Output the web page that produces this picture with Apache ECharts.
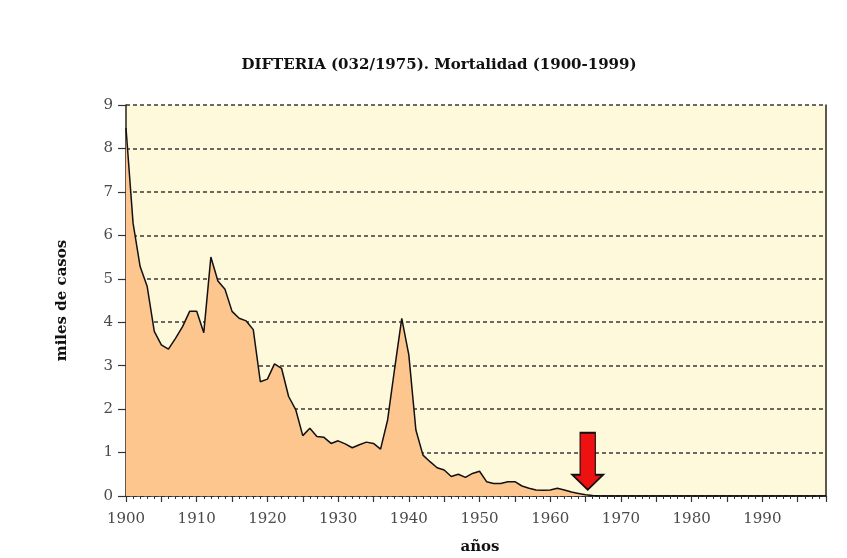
<!DOCTYPE html>
<html>
<head>
<meta charset="utf-8">
<script src="https://cdn.jsdelivr.net/npm/echarts@6/dist/echarts.min.js"></script>
<style>
  html, body { margin: 0; padding: 0; background: #fff; }
  #chart { width: 847px; height: 558px; }
</style>
</head>
<body>
<div id="chart"></div>
<script>
    // deaths per year, thousands (1900..1999)
    const startYear = 1900;
    const deaths = [
        8.47, 6.28, 5.28, 4.82, 3.79, 3.48, 3.38, 3.63, 3.9, 4.25,
        4.25, 3.76, 5.5, 4.95, 4.76, 4.25, 4.09, 4.03, 3.83, 2.63,
        2.69, 3.04, 2.94, 2.29, 1.99, 1.39, 1.56, 1.37, 1.35, 1.21,
        1.27, 1.2, 1.11, 1.18, 1.24, 1.21, 1.08, 1.75, 2.94, 4.09,
        3.25, 1.52, 0.94, 0.79, 0.65, 0.6, 0.45, 0.5, 0.43, 0.52,
        0.57, 0.33, 0.29, 0.29, 0.33, 0.33, 0.23, 0.18, 0.14, 0.13,
        0.14, 0.18, 0.14, 0.09, 0.06, 0.03, 0.01, 0, 0, 0,
        0, 0, 0, 0, 0, 0, 0, 0, 0, 0,
        0, 0, 0, 0, 0, 0, 0, 0, 0, 0,
        0, 0, 0, 0, 0, 0, 0, 0, 0, 0,
    ];
    const yTicks = [0, 1, 2, 3, 4, 5, 6, 7, 8, 9];
    const arrowAt = [1965.3, 0.8];

    const serif = '"DejaVu Serif", "Liberation Serif", serif';

    function buildSeriesData() {
        return deaths.map((v, i) => [startYear + i, v]);
    }

    const chart = echarts.init(document.getElementById('chart'));
    chart.setOption({
        animation: false,
        title: {
            text: 'DIFTERIA (032/1975). Mortalidad (1900-1999)',
            left: 434,
            textAlign: 'center',
            top: 53,
            textStyle: { fontFamily: serif, fontWeight: 'bold', fontSize: 15, color: '#111' },
        },
        grid: {
            left: 126, right: 21, top: 105, bottom: 62,
            outerBoundsMode: 'none',
            containLabel: false,
            show: true, borderWidth: 0, backgroundColor: '#FFF9DB',
        },
        xAxis: {
            type: 'value',
            min: 1900, max: 1999, interval: 5,
            name: 'años',
            nameLocation: 'middle',
            nameGap: 44,
            nameTextStyle: { fontFamily: serif, fontWeight: 'bold', fontSize: 15, color: '#111', padding: [0, 0, 0, 8] },
            axisLine: { lineStyle: { color: '#2a2118', width: 1.5 } },
            axisTick: { length: 6, lineStyle: { color: '#333', width: 1.2 } },
            minorTick: { show: true, splitNumber: 5, length: 3, lineStyle: { color: '#333', width: 1 } },
            splitLine: { show: false },
            axisLabel: {
                showMaxLabel: false,
                margin: 16,
                fontFamily: serif, fontSize: 15, color: '#4a4a4a',
                formatter: (v) => (v % 10 === 0 ? String(v) : ''),
            },
        },
        yAxis: [{
            type: 'value',
            min: yTicks[0], max: yTicks[yTicks.length - 1], interval: 1,
            name: 'miles de casos',
            nameLocation: 'middle',
            nameGap: 56,
            nameTextStyle: { fontFamily: serif, fontWeight: 'bold', fontSize: 15, color: '#111' },
            axisLine: { show: true, lineStyle: { color: '#2a2118', width: 1.5 } },
            axisTick: { show: true, length: 8, lineStyle: { color: '#333', width: 1.2 } },
            splitLine: { show: true, lineStyle: { color: '#3a3a3a', width: 1.5, type: [4, 3] } },
            axisLabel: { margin: 13, fontFamily: serif, fontSize: 15, color: '#4a4a4a' },
        }, {
            type: 'value',
            min: 0, max: 9, interval: 1,
            position: 'right',
            axisLine: { show: true, lineStyle: { color: '#2a2118', width: 1.5 } },
            axisTick: { show: false },
            axisLabel: { show: false },
            splitLine: { show: false },
        }],
        series: [{
            type: 'line',
            data: buildSeriesData(),
            symbol: 'none',
            lineStyle: { color: '#111', width: 1.5 },
            areaStyle: { color: '#FDC68E', opacity: 1 },
            markPoint: {
                silent: true,
                data: [{
                    coord: arrowAt,
                    symbol: 'path://M8,0 L23.5,0 L23.5,42 L31.5,42 L15.75,57 L0,42 L8,42 Z',
                    symbolSize: [31, 57],
                    itemStyle: { color: '#EE1111', borderColor: '#111', borderWidth: 1.5 },
                    label: { show: false },
                }],
            },
        }],
    });
</script>
</body>
</html>
